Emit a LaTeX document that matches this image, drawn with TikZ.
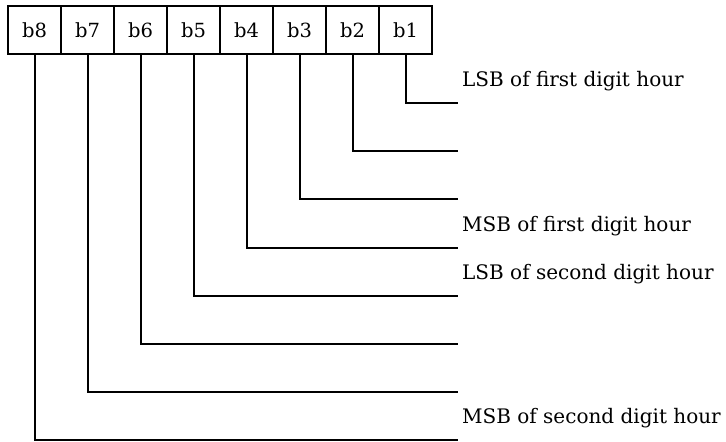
\documentclass[tikz,border=0pt]{standalone}
\usepackage{fontspec}
\setmainfont{DejaVu Serif}
\begin{document}
\begin{tikzpicture}[x=1pt,y=-1pt,
  bitbox/.style={draw,line width=2pt,minimum width=53pt,minimum height=48pt,inner sep=0pt,font=\fontsize{19.5}{22}\selectfont},
  wire/.style={line width=2pt},
  lab/.style={anchor=base west,inner sep=0pt,font=\fontsize{20}{22}\selectfont}]
\useasboundingbox (0,0) rectangle (726,442);
\foreach \i/\n in {0/8,1/7,2/6,3/5,4/4,5/3,6/2,7/1}{
  \node[bitbox] (b\n) at ({34.5+53*\i},30) {b\n};
}
\foreach \n/\yy in {1/103,2/151,3/199,4/248,5/296,6/344,7/392,8/440}{
  \coordinate (e\n) at (458,\yy);
  \draw[wire] (b\n.south) |- (e\n);
}
\node[lab] (t1) at (462,86.5) {LSB of first digit hour};
\node[lab] (t4) at (462,231) {MSB of first digit hour};
\node[lab] (t5) at (462,279.5) {LSB of second digit hour};
\node[lab] (t8) at (462,423.5) {MSB of second digit hour};
\end{tikzpicture}
\end{document}
